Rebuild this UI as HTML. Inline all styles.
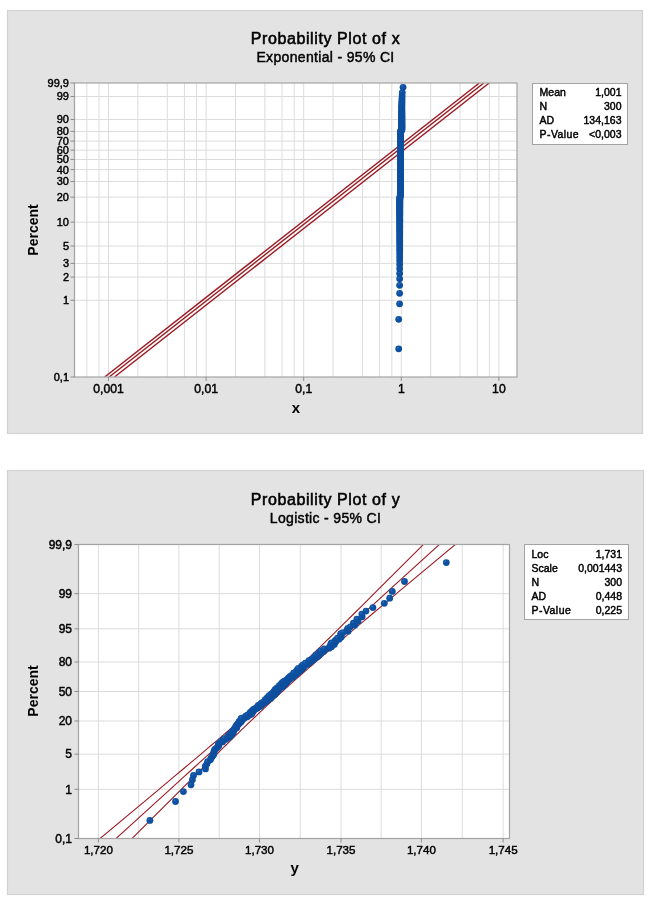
<!DOCTYPE html>
<html><head><meta charset="utf-8"><title>Probability Plots</title>
<style>html,body{margin:0;padding:0;background:#fff;} svg{display:block;will-change:transform;} text{font-family:"Liberation Sans", sans-serif;fill:#000;} .th{stroke:#000;stroke-width:0.45px;}</style>
</head><body>
<svg width="652" height="907" viewBox="0 0 652 907">
<defs>
<radialGradient id="dg" cx="0.36" cy="0.33" r="0.6">
<stop offset="0" stop-color="#3a74ba"/><stop offset="0.3" stop-color="#0f53a5"/><stop offset="1" stop-color="#0c4e9e"/>
</radialGradient>
<clipPath id="c1"><rect x="74.5" y="83" width="442.5" height="294"/></clipPath>
<clipPath id="c2"><rect x="78.5" y="544.5" width="431.0" height="294.0"/></clipPath>
</defs>
<rect x="7.5" y="10.5" width="635" height="423" fill="#e3e3e3" stroke="#d2d2d2" stroke-width="1.2"/>
<rect x="74.5" y="83" width="442.5" height="294" fill="#fff"/>
<line x1="86.85" y1="83" x2="86.85" y2="377" stroke="#dcdcdc" stroke-width="1"/>
<line x1="99.04" y1="83" x2="99.04" y2="377" stroke="#dcdcdc" stroke-width="1"/>
<line x1="108.5" y1="83" x2="108.5" y2="377" stroke="#dcdcdc" stroke-width="1"/>
<line x1="137.88" y1="83" x2="137.88" y2="377" stroke="#dcdcdc" stroke-width="1"/>
<line x1="167.26" y1="83" x2="167.26" y2="377" stroke="#dcdcdc" stroke-width="1"/>
<line x1="184.45" y1="83" x2="184.45" y2="377" stroke="#dcdcdc" stroke-width="1"/>
<line x1="196.64" y1="83" x2="196.64" y2="377" stroke="#dcdcdc" stroke-width="1"/>
<line x1="206.1" y1="83" x2="206.1" y2="377" stroke="#dcdcdc" stroke-width="1"/>
<line x1="235.48" y1="83" x2="235.48" y2="377" stroke="#dcdcdc" stroke-width="1"/>
<line x1="264.86" y1="83" x2="264.86" y2="377" stroke="#dcdcdc" stroke-width="1"/>
<line x1="282.05" y1="83" x2="282.05" y2="377" stroke="#dcdcdc" stroke-width="1"/>
<line x1="294.24" y1="83" x2="294.24" y2="377" stroke="#dcdcdc" stroke-width="1"/>
<line x1="303.7" y1="83" x2="303.7" y2="377" stroke="#dcdcdc" stroke-width="1"/>
<line x1="333.08" y1="83" x2="333.08" y2="377" stroke="#dcdcdc" stroke-width="1"/>
<line x1="362.46" y1="83" x2="362.46" y2="377" stroke="#dcdcdc" stroke-width="1"/>
<line x1="379.65" y1="83" x2="379.65" y2="377" stroke="#dcdcdc" stroke-width="1"/>
<line x1="391.84" y1="83" x2="391.84" y2="377" stroke="#dcdcdc" stroke-width="1"/>
<line x1="401.3" y1="83" x2="401.3" y2="377" stroke="#dcdcdc" stroke-width="1"/>
<line x1="430.68" y1="83" x2="430.68" y2="377" stroke="#dcdcdc" stroke-width="1"/>
<line x1="460.06" y1="83" x2="460.06" y2="377" stroke="#dcdcdc" stroke-width="1"/>
<line x1="477.25" y1="83" x2="477.25" y2="377" stroke="#dcdcdc" stroke-width="1"/>
<line x1="489.44" y1="83" x2="489.44" y2="377" stroke="#dcdcdc" stroke-width="1"/>
<line x1="498.9" y1="83" x2="498.9" y2="377" stroke="#dcdcdc" stroke-width="1"/>
<line x1="74.5" y1="96.49" x2="517" y2="96.49" stroke="#dcdcdc" stroke-width="1"/>
<line x1="74.5" y1="119.54" x2="517" y2="119.54" stroke="#dcdcdc" stroke-width="1"/>
<line x1="74.5" y1="131.45" x2="517" y2="131.45" stroke="#dcdcdc" stroke-width="1"/>
<line x1="74.5" y1="141.1" x2="517" y2="141.1" stroke="#dcdcdc" stroke-width="1"/>
<line x1="74.5" y1="150.18" x2="517" y2="150.18" stroke="#dcdcdc" stroke-width="1"/>
<line x1="74.5" y1="159.47" x2="517" y2="159.47" stroke="#dcdcdc" stroke-width="1"/>
<line x1="74.5" y1="169.62" x2="517" y2="169.62" stroke="#dcdcdc" stroke-width="1"/>
<line x1="74.5" y1="181.56" x2="517" y2="181.56" stroke="#dcdcdc" stroke-width="1"/>
<line x1="74.5" y1="197.16" x2="517" y2="197.16" stroke="#dcdcdc" stroke-width="1"/>
<line x1="74.5" y1="222.12" x2="517" y2="222.12" stroke="#dcdcdc" stroke-width="1"/>
<line x1="74.5" y1="246.06" x2="517" y2="246.06" stroke="#dcdcdc" stroke-width="1"/>
<line x1="74.5" y1="263.39" x2="517" y2="263.39" stroke="#dcdcdc" stroke-width="1"/>
<line x1="74.5" y1="277.05" x2="517" y2="277.05" stroke="#dcdcdc" stroke-width="1"/>
<line x1="74.5" y1="300.27" x2="517" y2="300.27" stroke="#dcdcdc" stroke-width="1"/>
<g clip-path="url(#c1)">
<line x1="104.66" y1="377" x2="479.36" y2="83" stroke="#9a1a22" stroke-width="1.4"/>
<line x1="109.16" y1="377" x2="483.86" y2="83" stroke="#9a1a22" stroke-width="1.4"/>
<line x1="114.46" y1="377" x2="489.16" y2="83" stroke="#9a1a22" stroke-width="1.4"/>
</g>
<circle cx="398.7" cy="348.84" r="3.4" fill="url(#dg)"/>
<circle cx="398.7" cy="319.28" r="3.4" fill="url(#dg)"/>
<circle cx="399.6" cy="303.83" r="3.4" fill="url(#dg)"/>
<circle cx="399.62" cy="293.3" r="3.4" fill="url(#dg)"/>
<circle cx="399.64" cy="285.29" r="3.4" fill="url(#dg)"/>
<circle cx="399.65" cy="278.82" r="3.4" fill="url(#dg)"/>
<circle cx="399.66" cy="273.38" r="3.4" fill="url(#dg)"/>
<circle cx="399.67" cy="268.7" r="3.4" fill="url(#dg)"/>
<circle cx="399.67" cy="264.58" r="3.4" fill="url(#dg)"/>
<circle cx="399.68" cy="260.91" r="3.4" fill="url(#dg)"/>
<circle cx="399.69" cy="257.59" r="3.4" fill="url(#dg)"/>
<circle cx="399.69" cy="254.56" r="3.4" fill="url(#dg)"/>
<circle cx="399.7" cy="251.77" r="3.4" fill="url(#dg)"/>
<circle cx="399.7" cy="249.2" r="3.4" fill="url(#dg)"/>
<circle cx="399.71" cy="246.79" r="3.4" fill="url(#dg)"/>
<circle cx="399.71" cy="244.55" r="3.4" fill="url(#dg)"/>
<circle cx="399.72" cy="242.44" r="3.4" fill="url(#dg)"/>
<circle cx="399.72" cy="240.44" r="3.4" fill="url(#dg)"/>
<circle cx="399.72" cy="238.56" r="3.4" fill="url(#dg)"/>
<circle cx="399.73" cy="236.77" r="3.4" fill="url(#dg)"/>
<circle cx="399.73" cy="235.06" r="3.4" fill="url(#dg)"/>
<circle cx="399.73" cy="233.43" r="3.4" fill="url(#dg)"/>
<circle cx="399.74" cy="231.88" r="3.4" fill="url(#dg)"/>
<circle cx="399.74" cy="230.38" r="3.4" fill="url(#dg)"/>
<circle cx="399.74" cy="228.95" r="3.4" fill="url(#dg)"/>
<circle cx="399.74" cy="227.57" r="3.4" fill="url(#dg)"/>
<circle cx="399.75" cy="226.24" r="3.4" fill="url(#dg)"/>
<circle cx="399.75" cy="224.96" r="3.4" fill="url(#dg)"/>
<circle cx="399.75" cy="223.72" r="3.4" fill="url(#dg)"/>
<circle cx="399.75" cy="222.52" r="3.4" fill="url(#dg)"/>
<circle cx="399.76" cy="221.36" r="3.4" fill="url(#dg)"/>
<circle cx="399.76" cy="220.23" r="3.4" fill="url(#dg)"/>
<circle cx="399.76" cy="219.14" r="3.4" fill="url(#dg)"/>
<circle cx="399.76" cy="218.07" r="3.4" fill="url(#dg)"/>
<circle cx="399.76" cy="217.04" r="3.4" fill="url(#dg)"/>
<circle cx="399.77" cy="216.03" r="3.4" fill="url(#dg)"/>
<circle cx="399.77" cy="215.05" r="3.4" fill="url(#dg)"/>
<circle cx="399.77" cy="214.1" r="3.4" fill="url(#dg)"/>
<circle cx="399.77" cy="213.16" r="3.4" fill="url(#dg)"/>
<circle cx="399.77" cy="212.25" r="3.4" fill="url(#dg)"/>
<circle cx="399.77" cy="211.36" r="3.4" fill="url(#dg)"/>
<circle cx="399.78" cy="210.49" r="3.4" fill="url(#dg)"/>
<circle cx="399.78" cy="209.64" r="3.4" fill="url(#dg)"/>
<circle cx="399.78" cy="208.81" r="3.4" fill="url(#dg)"/>
<circle cx="399.78" cy="208" r="3.4" fill="url(#dg)"/>
<circle cx="399.78" cy="207.2" r="3.4" fill="url(#dg)"/>
<circle cx="399.78" cy="206.41" r="3.4" fill="url(#dg)"/>
<circle cx="399.79" cy="205.64" r="3.4" fill="url(#dg)"/>
<circle cx="399.79" cy="204.89" r="3.4" fill="url(#dg)"/>
<circle cx="399.79" cy="204.15" r="3.4" fill="url(#dg)"/>
<circle cx="399.79" cy="203.42" r="3.4" fill="url(#dg)"/>
<circle cx="399.79" cy="202.71" r="3.4" fill="url(#dg)"/>
<circle cx="399.79" cy="202.01" r="3.4" fill="url(#dg)"/>
<circle cx="399.79" cy="201.32" r="3.4" fill="url(#dg)"/>
<circle cx="399.8" cy="200.64" r="3.4" fill="url(#dg)"/>
<circle cx="399.8" cy="199.97" r="3.4" fill="url(#dg)"/>
<circle cx="399.8" cy="199.31" r="3.4" fill="url(#dg)"/>
<circle cx="399.8" cy="198.66" r="3.4" fill="url(#dg)"/>
<circle cx="399.8" cy="198.03" r="3.4" fill="url(#dg)"/>
<circle cx="399.95" cy="197.4" r="3.4" fill="url(#dg)"/>
<circle cx="400.11" cy="196.78" r="3.4" fill="url(#dg)"/>
<circle cx="400.26" cy="196.17" r="3.4" fill="url(#dg)"/>
<circle cx="400.31" cy="195.57" r="3.4" fill="url(#dg)"/>
<circle cx="400.32" cy="194.97" r="3.4" fill="url(#dg)"/>
<circle cx="400.33" cy="194.39" r="3.4" fill="url(#dg)"/>
<circle cx="400.34" cy="193.81" r="3.4" fill="url(#dg)"/>
<circle cx="400.35" cy="193.24" r="3.4" fill="url(#dg)"/>
<circle cx="400.36" cy="192.68" r="3.4" fill="url(#dg)"/>
<circle cx="400.36" cy="192.12" r="3.4" fill="url(#dg)"/>
<circle cx="400.37" cy="191.57" r="3.4" fill="url(#dg)"/>
<circle cx="400.38" cy="191.03" r="3.4" fill="url(#dg)"/>
<circle cx="400.39" cy="190.49" r="3.4" fill="url(#dg)"/>
<circle cx="400.4" cy="189.96" r="3.4" fill="url(#dg)"/>
<circle cx="400.4" cy="189.44" r="3.4" fill="url(#dg)"/>
<circle cx="400.4" cy="188.92" r="3.4" fill="url(#dg)"/>
<circle cx="400.4" cy="188.41" r="3.4" fill="url(#dg)"/>
<circle cx="400.4" cy="187.9" r="3.4" fill="url(#dg)"/>
<circle cx="400.4" cy="187.4" r="3.4" fill="url(#dg)"/>
<circle cx="400.41" cy="186.9" r="3.4" fill="url(#dg)"/>
<circle cx="400.41" cy="186.41" r="3.4" fill="url(#dg)"/>
<circle cx="400.41" cy="185.92" r="3.4" fill="url(#dg)"/>
<circle cx="400.41" cy="185.44" r="3.4" fill="url(#dg)"/>
<circle cx="400.41" cy="184.97" r="3.4" fill="url(#dg)"/>
<circle cx="400.41" cy="184.49" r="3.4" fill="url(#dg)"/>
<circle cx="400.41" cy="184.03" r="3.4" fill="url(#dg)"/>
<circle cx="400.41" cy="183.56" r="3.4" fill="url(#dg)"/>
<circle cx="400.41" cy="183.1" r="3.4" fill="url(#dg)"/>
<circle cx="400.41" cy="182.65" r="3.4" fill="url(#dg)"/>
<circle cx="400.41" cy="182.2" r="3.4" fill="url(#dg)"/>
<circle cx="400.41" cy="181.75" r="3.4" fill="url(#dg)"/>
<circle cx="400.41" cy="181.31" r="3.4" fill="url(#dg)"/>
<circle cx="400.42" cy="180.87" r="3.4" fill="url(#dg)"/>
<circle cx="400.42" cy="180.43" r="3.4" fill="url(#dg)"/>
<circle cx="400.42" cy="180" r="3.4" fill="url(#dg)"/>
<circle cx="400.42" cy="179.57" r="3.4" fill="url(#dg)"/>
<circle cx="400.42" cy="179.15" r="3.4" fill="url(#dg)"/>
<circle cx="400.42" cy="178.72" r="3.4" fill="url(#dg)"/>
<circle cx="400.42" cy="178.31" r="3.4" fill="url(#dg)"/>
<circle cx="400.42" cy="177.89" r="3.4" fill="url(#dg)"/>
<circle cx="400.42" cy="177.48" r="3.4" fill="url(#dg)"/>
<circle cx="400.42" cy="177.07" r="3.4" fill="url(#dg)"/>
<circle cx="400.42" cy="176.66" r="3.4" fill="url(#dg)"/>
<circle cx="400.42" cy="176.26" r="3.4" fill="url(#dg)"/>
<circle cx="400.42" cy="175.86" r="3.4" fill="url(#dg)"/>
<circle cx="400.42" cy="175.46" r="3.4" fill="url(#dg)"/>
<circle cx="400.43" cy="175.06" r="3.4" fill="url(#dg)"/>
<circle cx="400.43" cy="174.67" r="3.4" fill="url(#dg)"/>
<circle cx="400.43" cy="174.28" r="3.4" fill="url(#dg)"/>
<circle cx="400.43" cy="173.89" r="3.4" fill="url(#dg)"/>
<circle cx="400.43" cy="173.51" r="3.4" fill="url(#dg)"/>
<circle cx="400.43" cy="173.13" r="3.4" fill="url(#dg)"/>
<circle cx="400.43" cy="172.75" r="3.4" fill="url(#dg)"/>
<circle cx="400.43" cy="172.37" r="3.4" fill="url(#dg)"/>
<circle cx="400.43" cy="171.99" r="3.4" fill="url(#dg)"/>
<circle cx="400.43" cy="171.62" r="3.4" fill="url(#dg)"/>
<circle cx="400.43" cy="171.25" r="3.4" fill="url(#dg)"/>
<circle cx="400.43" cy="170.88" r="3.4" fill="url(#dg)"/>
<circle cx="400.43" cy="170.51" r="3.4" fill="url(#dg)"/>
<circle cx="400.43" cy="170.15" r="3.4" fill="url(#dg)"/>
<circle cx="400.43" cy="169.78" r="3.4" fill="url(#dg)"/>
<circle cx="400.44" cy="169.42" r="3.4" fill="url(#dg)"/>
<circle cx="400.44" cy="169.06" r="3.4" fill="url(#dg)"/>
<circle cx="400.44" cy="168.71" r="3.4" fill="url(#dg)"/>
<circle cx="400.44" cy="168.35" r="3.4" fill="url(#dg)"/>
<circle cx="400.44" cy="168" r="3.4" fill="url(#dg)"/>
<circle cx="400.44" cy="167.64" r="3.4" fill="url(#dg)"/>
<circle cx="400.44" cy="167.29" r="3.4" fill="url(#dg)"/>
<circle cx="400.44" cy="166.94" r="3.4" fill="url(#dg)"/>
<circle cx="400.44" cy="166.6" r="3.4" fill="url(#dg)"/>
<circle cx="400.44" cy="166.25" r="3.4" fill="url(#dg)"/>
<circle cx="400.44" cy="165.91" r="3.4" fill="url(#dg)"/>
<circle cx="400.44" cy="165.57" r="3.4" fill="url(#dg)"/>
<circle cx="400.44" cy="165.23" r="3.4" fill="url(#dg)"/>
<circle cx="400.44" cy="164.89" r="3.4" fill="url(#dg)"/>
<circle cx="400.44" cy="164.55" r="3.4" fill="url(#dg)"/>
<circle cx="400.44" cy="164.21" r="3.4" fill="url(#dg)"/>
<circle cx="400.44" cy="163.88" r="3.4" fill="url(#dg)"/>
<circle cx="400.45" cy="163.54" r="3.4" fill="url(#dg)"/>
<circle cx="400.45" cy="163.21" r="3.4" fill="url(#dg)"/>
<circle cx="400.45" cy="162.88" r="3.4" fill="url(#dg)"/>
<circle cx="400.45" cy="162.55" r="3.4" fill="url(#dg)"/>
<circle cx="400.45" cy="162.22" r="3.4" fill="url(#dg)"/>
<circle cx="400.45" cy="161.89" r="3.4" fill="url(#dg)"/>
<circle cx="400.45" cy="161.56" r="3.4" fill="url(#dg)"/>
<circle cx="400.45" cy="161.24" r="3.4" fill="url(#dg)"/>
<circle cx="400.45" cy="160.91" r="3.4" fill="url(#dg)"/>
<circle cx="400.45" cy="160.59" r="3.4" fill="url(#dg)"/>
<circle cx="400.45" cy="160.27" r="3.4" fill="url(#dg)"/>
<circle cx="400.45" cy="159.95" r="3.4" fill="url(#dg)"/>
<circle cx="400.45" cy="159.63" r="3.4" fill="url(#dg)"/>
<circle cx="400.45" cy="159.31" r="3.4" fill="url(#dg)"/>
<circle cx="400.45" cy="158.99" r="3.4" fill="url(#dg)"/>
<circle cx="400.45" cy="158.67" r="3.4" fill="url(#dg)"/>
<circle cx="400.45" cy="158.35" r="3.4" fill="url(#dg)"/>
<circle cx="400.45" cy="158.04" r="3.4" fill="url(#dg)"/>
<circle cx="400.46" cy="157.72" r="3.4" fill="url(#dg)"/>
<circle cx="400.46" cy="157.41" r="3.4" fill="url(#dg)"/>
<circle cx="400.46" cy="157.09" r="3.4" fill="url(#dg)"/>
<circle cx="400.46" cy="156.78" r="3.4" fill="url(#dg)"/>
<circle cx="400.46" cy="156.47" r="3.4" fill="url(#dg)"/>
<circle cx="400.46" cy="156.16" r="3.4" fill="url(#dg)"/>
<circle cx="400.46" cy="155.85" r="3.4" fill="url(#dg)"/>
<circle cx="400.46" cy="155.54" r="3.4" fill="url(#dg)"/>
<circle cx="400.46" cy="155.23" r="3.4" fill="url(#dg)"/>
<circle cx="400.46" cy="154.92" r="3.4" fill="url(#dg)"/>
<circle cx="400.46" cy="154.61" r="3.4" fill="url(#dg)"/>
<circle cx="400.46" cy="154.3" r="3.4" fill="url(#dg)"/>
<circle cx="400.46" cy="154" r="3.4" fill="url(#dg)"/>
<circle cx="400.46" cy="153.69" r="3.4" fill="url(#dg)"/>
<circle cx="400.46" cy="153.39" r="3.4" fill="url(#dg)"/>
<circle cx="400.46" cy="153.08" r="3.4" fill="url(#dg)"/>
<circle cx="400.46" cy="152.77" r="3.4" fill="url(#dg)"/>
<circle cx="400.46" cy="152.47" r="3.4" fill="url(#dg)"/>
<circle cx="400.46" cy="152.17" r="3.4" fill="url(#dg)"/>
<circle cx="400.47" cy="151.86" r="3.4" fill="url(#dg)"/>
<circle cx="400.47" cy="151.56" r="3.4" fill="url(#dg)"/>
<circle cx="400.47" cy="151.25" r="3.4" fill="url(#dg)"/>
<circle cx="400.47" cy="150.95" r="3.4" fill="url(#dg)"/>
<circle cx="400.47" cy="150.65" r="3.4" fill="url(#dg)"/>
<circle cx="400.47" cy="150.35" r="3.4" fill="url(#dg)"/>
<circle cx="400.47" cy="150.05" r="3.4" fill="url(#dg)"/>
<circle cx="400.47" cy="149.74" r="3.4" fill="url(#dg)"/>
<circle cx="400.47" cy="149.44" r="3.4" fill="url(#dg)"/>
<circle cx="400.47" cy="149.14" r="3.4" fill="url(#dg)"/>
<circle cx="400.47" cy="148.84" r="3.4" fill="url(#dg)"/>
<circle cx="400.47" cy="148.54" r="3.4" fill="url(#dg)"/>
<circle cx="400.47" cy="148.24" r="3.4" fill="url(#dg)"/>
<circle cx="400.47" cy="147.94" r="3.4" fill="url(#dg)"/>
<circle cx="400.47" cy="147.63" r="3.4" fill="url(#dg)"/>
<circle cx="400.47" cy="147.33" r="3.4" fill="url(#dg)"/>
<circle cx="400.47" cy="147.03" r="3.4" fill="url(#dg)"/>
<circle cx="400.47" cy="146.73" r="3.4" fill="url(#dg)"/>
<circle cx="400.47" cy="146.43" r="3.4" fill="url(#dg)"/>
<circle cx="400.47" cy="146.13" r="3.4" fill="url(#dg)"/>
<circle cx="400.48" cy="145.83" r="3.4" fill="url(#dg)"/>
<circle cx="400.48" cy="145.53" r="3.4" fill="url(#dg)"/>
<circle cx="400.48" cy="145.23" r="3.4" fill="url(#dg)"/>
<circle cx="400.48" cy="144.92" r="3.4" fill="url(#dg)"/>
<circle cx="400.48" cy="144.62" r="3.4" fill="url(#dg)"/>
<circle cx="400.48" cy="144.32" r="3.4" fill="url(#dg)"/>
<circle cx="400.48" cy="144.02" r="3.4" fill="url(#dg)"/>
<circle cx="400.48" cy="143.71" r="3.4" fill="url(#dg)"/>
<circle cx="400.48" cy="143.41" r="3.4" fill="url(#dg)"/>
<circle cx="400.48" cy="143.11" r="3.4" fill="url(#dg)"/>
<circle cx="400.48" cy="142.81" r="3.4" fill="url(#dg)"/>
<circle cx="400.48" cy="142.5" r="3.4" fill="url(#dg)"/>
<circle cx="400.48" cy="142.2" r="3.4" fill="url(#dg)"/>
<circle cx="400.48" cy="141.89" r="3.4" fill="url(#dg)"/>
<circle cx="400.48" cy="141.59" r="3.4" fill="url(#dg)"/>
<circle cx="400.48" cy="141.28" r="3.4" fill="url(#dg)"/>
<circle cx="400.48" cy="140.97" r="3.4" fill="url(#dg)"/>
<circle cx="400.48" cy="140.67" r="3.4" fill="url(#dg)"/>
<circle cx="400.48" cy="140.36" r="3.4" fill="url(#dg)"/>
<circle cx="400.49" cy="140.05" r="3.4" fill="url(#dg)"/>
<circle cx="400.49" cy="139.74" r="3.4" fill="url(#dg)"/>
<circle cx="400.49" cy="139.43" r="3.4" fill="url(#dg)"/>
<circle cx="400.49" cy="139.12" r="3.4" fill="url(#dg)"/>
<circle cx="400.49" cy="138.81" r="3.4" fill="url(#dg)"/>
<circle cx="400.49" cy="138.5" r="3.4" fill="url(#dg)"/>
<circle cx="400.49" cy="138.18" r="3.4" fill="url(#dg)"/>
<circle cx="400.49" cy="137.87" r="3.4" fill="url(#dg)"/>
<circle cx="400.49" cy="137.56" r="3.4" fill="url(#dg)"/>
<circle cx="400.49" cy="137.24" r="3.4" fill="url(#dg)"/>
<circle cx="400.49" cy="136.92" r="3.4" fill="url(#dg)"/>
<circle cx="400.49" cy="136.6" r="3.4" fill="url(#dg)"/>
<circle cx="400.49" cy="136.29" r="3.4" fill="url(#dg)"/>
<circle cx="400.49" cy="135.96" r="3.4" fill="url(#dg)"/>
<circle cx="400.49" cy="135.64" r="3.4" fill="url(#dg)"/>
<circle cx="400.49" cy="135.32" r="3.4" fill="url(#dg)"/>
<circle cx="400.49" cy="135" r="3.4" fill="url(#dg)"/>
<circle cx="400.49" cy="134.67" r="3.4" fill="url(#dg)"/>
<circle cx="400.5" cy="134.34" r="3.4" fill="url(#dg)"/>
<circle cx="400.5" cy="134.01" r="3.4" fill="url(#dg)"/>
<circle cx="400.5" cy="133.68" r="3.4" fill="url(#dg)"/>
<circle cx="400.5" cy="133.35" r="3.4" fill="url(#dg)"/>
<circle cx="400.5" cy="133.02" r="3.4" fill="url(#dg)"/>
<circle cx="400.5" cy="132.68" r="3.4" fill="url(#dg)"/>
<circle cx="400.5" cy="132.34" r="3.4" fill="url(#dg)"/>
<circle cx="400.5" cy="132" r="3.4" fill="url(#dg)"/>
<circle cx="400.5" cy="131.66" r="3.4" fill="url(#dg)"/>
<circle cx="400.66" cy="131.32" r="3.4" fill="url(#dg)"/>
<circle cx="400.96" cy="130.97" r="3.4" fill="url(#dg)"/>
<circle cx="401.26" cy="130.62" r="3.4" fill="url(#dg)"/>
<circle cx="401.56" cy="130.27" r="3.4" fill="url(#dg)"/>
<circle cx="401.8" cy="129.92" r="3.4" fill="url(#dg)"/>
<circle cx="401.8" cy="129.57" r="3.4" fill="url(#dg)"/>
<circle cx="401.8" cy="129.21" r="3.4" fill="url(#dg)"/>
<circle cx="401.8" cy="128.85" r="3.4" fill="url(#dg)"/>
<circle cx="401.8" cy="128.48" r="3.4" fill="url(#dg)"/>
<circle cx="401.8" cy="128.11" r="3.4" fill="url(#dg)"/>
<circle cx="401.8" cy="127.74" r="3.4" fill="url(#dg)"/>
<circle cx="401.8" cy="127.37" r="3.4" fill="url(#dg)"/>
<circle cx="401.8" cy="126.99" r="3.4" fill="url(#dg)"/>
<circle cx="401.8" cy="126.61" r="3.4" fill="url(#dg)"/>
<circle cx="401.8" cy="126.23" r="3.4" fill="url(#dg)"/>
<circle cx="401.8" cy="125.84" r="3.4" fill="url(#dg)"/>
<circle cx="401.8" cy="125.45" r="3.4" fill="url(#dg)"/>
<circle cx="401.8" cy="125.05" r="3.4" fill="url(#dg)"/>
<circle cx="401.8" cy="124.65" r="3.4" fill="url(#dg)"/>
<circle cx="401.8" cy="124.24" r="3.4" fill="url(#dg)"/>
<circle cx="401.8" cy="123.83" r="3.4" fill="url(#dg)"/>
<circle cx="401.8" cy="123.41" r="3.4" fill="url(#dg)"/>
<circle cx="401.8" cy="122.99" r="3.4" fill="url(#dg)"/>
<circle cx="401.8" cy="122.56" r="3.4" fill="url(#dg)"/>
<circle cx="401.8" cy="122.13" r="3.4" fill="url(#dg)"/>
<circle cx="401.8" cy="121.69" r="3.4" fill="url(#dg)"/>
<circle cx="401.8" cy="121.24" r="3.4" fill="url(#dg)"/>
<circle cx="401.8" cy="120.79" r="3.4" fill="url(#dg)"/>
<circle cx="401.8" cy="120.32" r="3.4" fill="url(#dg)"/>
<circle cx="401.8" cy="119.85" r="3.4" fill="url(#dg)"/>
<circle cx="401.8" cy="119.37" r="3.4" fill="url(#dg)"/>
<circle cx="401.8" cy="118.89" r="3.4" fill="url(#dg)"/>
<circle cx="401.8" cy="118.39" r="3.4" fill="url(#dg)"/>
<circle cx="401.8" cy="117.88" r="3.4" fill="url(#dg)"/>
<circle cx="401.8" cy="117.36" r="3.4" fill="url(#dg)"/>
<circle cx="401.8" cy="116.82" r="3.4" fill="url(#dg)"/>
<circle cx="401.8" cy="116.28" r="3.4" fill="url(#dg)"/>
<circle cx="401.8" cy="115.72" r="3.4" fill="url(#dg)"/>
<circle cx="401.8" cy="115.14" r="3.4" fill="url(#dg)"/>
<circle cx="401.8" cy="114.55" r="3.4" fill="url(#dg)"/>
<circle cx="401.8" cy="113.94" r="3.4" fill="url(#dg)"/>
<circle cx="401.8" cy="113.31" r="3.4" fill="url(#dg)"/>
<circle cx="401.8" cy="112.66" r="3.4" fill="url(#dg)"/>
<circle cx="401.8" cy="111.98" r="3.4" fill="url(#dg)"/>
<circle cx="401.8" cy="111.28" r="3.4" fill="url(#dg)"/>
<circle cx="401.8" cy="110.55" r="3.4" fill="url(#dg)"/>
<circle cx="401.8" cy="109.78" r="3.4" fill="url(#dg)"/>
<circle cx="401.8" cy="108.97" r="3.4" fill="url(#dg)"/>
<circle cx="401.8" cy="108.12" r="3.4" fill="url(#dg)"/>
<circle cx="401.8" cy="107.22" r="3.4" fill="url(#dg)"/>
<circle cx="401.8" cy="106.25" r="3.4" fill="url(#dg)"/>
<circle cx="401.82" cy="105.22" r="3.4" fill="url(#dg)"/>
<circle cx="401.85" cy="104.09" r="3.4" fill="url(#dg)"/>
<circle cx="401.88" cy="102.85" r="3.4" fill="url(#dg)"/>
<circle cx="401.91" cy="101.47" r="3.4" fill="url(#dg)"/>
<circle cx="401.95" cy="99.89" r="3.4" fill="url(#dg)"/>
<circle cx="402" cy="98.03" r="3.4" fill="url(#dg)"/>
<circle cx="402.11" cy="95.72" r="3.4" fill="url(#dg)"/>
<circle cx="402.27" cy="92.61" r="3.4" fill="url(#dg)"/>
<circle cx="403.06" cy="87.34" r="3.4" fill="url(#dg)"/>
<rect x="74.5" y="83" width="442.5" height="294" fill="none" stroke="#a3a3a3" stroke-width="1.2"/>
<line x1="70.5" y1="83" x2="74.5" y2="83" stroke="#8c8c8c" stroke-width="1"/>
<text x="69" y="86.9" font-size="11" font-weight="400" text-anchor="end" class="th" >99,9</text>
<line x1="70.5" y1="96.49" x2="74.5" y2="96.49" stroke="#8c8c8c" stroke-width="1"/>
<text x="69" y="100.39" font-size="11" font-weight="400" text-anchor="end" class="th" >99</text>
<line x1="70.5" y1="119.54" x2="74.5" y2="119.54" stroke="#8c8c8c" stroke-width="1"/>
<text x="69" y="123.44" font-size="11" font-weight="400" text-anchor="end" class="th" >90</text>
<line x1="70.5" y1="131.45" x2="74.5" y2="131.45" stroke="#8c8c8c" stroke-width="1"/>
<text x="69" y="135.35" font-size="11" font-weight="400" text-anchor="end" class="th" >80</text>
<line x1="70.5" y1="141.1" x2="74.5" y2="141.1" stroke="#8c8c8c" stroke-width="1"/>
<text x="69" y="145" font-size="11" font-weight="400" text-anchor="end" class="th" >70</text>
<line x1="70.5" y1="150.18" x2="74.5" y2="150.18" stroke="#8c8c8c" stroke-width="1"/>
<text x="69" y="154.08" font-size="11" font-weight="400" text-anchor="end" class="th" >60</text>
<line x1="70.5" y1="159.47" x2="74.5" y2="159.47" stroke="#8c8c8c" stroke-width="1"/>
<text x="69" y="163.37" font-size="11" font-weight="400" text-anchor="end" class="th" >50</text>
<line x1="70.5" y1="169.62" x2="74.5" y2="169.62" stroke="#8c8c8c" stroke-width="1"/>
<text x="69" y="173.52" font-size="11" font-weight="400" text-anchor="end" class="th" >40</text>
<line x1="70.5" y1="181.56" x2="74.5" y2="181.56" stroke="#8c8c8c" stroke-width="1"/>
<text x="69" y="185.46" font-size="11" font-weight="400" text-anchor="end" class="th" >30</text>
<line x1="70.5" y1="197.16" x2="74.5" y2="197.16" stroke="#8c8c8c" stroke-width="1"/>
<text x="69" y="201.06" font-size="11" font-weight="400" text-anchor="end" class="th" >20</text>
<line x1="70.5" y1="222.12" x2="74.5" y2="222.12" stroke="#8c8c8c" stroke-width="1"/>
<text x="69" y="226.02" font-size="11" font-weight="400" text-anchor="end" class="th" >10</text>
<line x1="70.5" y1="246.06" x2="74.5" y2="246.06" stroke="#8c8c8c" stroke-width="1"/>
<text x="69" y="249.96" font-size="11" font-weight="400" text-anchor="end" class="th" >5</text>
<line x1="70.5" y1="263.39" x2="74.5" y2="263.39" stroke="#8c8c8c" stroke-width="1"/>
<text x="69" y="267.29" font-size="11" font-weight="400" text-anchor="end" class="th" >3</text>
<line x1="70.5" y1="277.05" x2="74.5" y2="277.05" stroke="#8c8c8c" stroke-width="1"/>
<text x="69" y="280.95" font-size="11" font-weight="400" text-anchor="end" class="th" >2</text>
<line x1="70.5" y1="300.27" x2="74.5" y2="300.27" stroke="#8c8c8c" stroke-width="1"/>
<text x="69" y="304.17" font-size="11" font-weight="400" text-anchor="end" class="th" >1</text>
<line x1="70.5" y1="377" x2="74.5" y2="377" stroke="#8c8c8c" stroke-width="1"/>
<text x="69" y="380.9" font-size="11" font-weight="400" text-anchor="end" class="th" >0,1</text>
<line x1="108.5" y1="377" x2="108.5" y2="381" stroke="#8c8c8c" stroke-width="1"/>
<text x="108.5" y="393" font-size="12.2" font-weight="400" text-anchor="middle" class="th" >0,001</text>
<line x1="206.1" y1="377" x2="206.1" y2="381" stroke="#8c8c8c" stroke-width="1"/>
<text x="206.1" y="393" font-size="12.2" font-weight="400" text-anchor="middle" class="th" >0,01</text>
<line x1="303.7" y1="377" x2="303.7" y2="381" stroke="#8c8c8c" stroke-width="1"/>
<text x="303.7" y="393" font-size="12.2" font-weight="400" text-anchor="middle" class="th" >0,1</text>
<line x1="401.3" y1="377" x2="401.3" y2="381" stroke="#8c8c8c" stroke-width="1"/>
<text x="401.3" y="393" font-size="12.2" font-weight="400" text-anchor="middle" class="th" >1</text>
<line x1="498.9" y1="377" x2="498.9" y2="381" stroke="#8c8c8c" stroke-width="1"/>
<text x="498.9" y="393" font-size="12.2" font-weight="400" text-anchor="middle" class="th" >10</text>
<text x="325.5" y="44" font-size="16" font-weight="400" text-anchor="middle" class="th" letter-spacing="0.6" style="stroke-width:0.55px">Probability Plot of x</text>
<text x="325.5" y="62" font-size="14" font-weight="400" text-anchor="middle" class="th" letter-spacing="0.33" style="stroke-width:0.45px">Exponential - 95% CI</text>
<text x="296" y="413" font-size="15" font-weight="700" text-anchor="middle" >x</text>
<text transform="translate(38.3,230) rotate(-90)" font-size="14" font-weight="700" text-anchor="middle">Percent</text>
<rect x="532.5" y="83.5" width="95" height="61" fill="#fff" stroke="#a3a3a3" stroke-width="1"/>
<text x="539.6" y="96.3" font-size="10.5" font-weight="400" text-anchor="start" class="th" >Mean</text>
<text x="621.5" y="96.3" font-size="10.5" font-weight="400" text-anchor="end" class="th" >1,001</text>
<text x="539.6" y="110.1" font-size="10.5" font-weight="400" text-anchor="start" class="th" >N</text>
<text x="621.5" y="110.1" font-size="10.5" font-weight="400" text-anchor="end" class="th" >300</text>
<text x="539.6" y="123.9" font-size="10.5" font-weight="400" text-anchor="start" class="th" >AD</text>
<text x="621.5" y="123.9" font-size="10.5" font-weight="400" text-anchor="end" class="th" >134,163</text>
<text x="539.6" y="137.7" font-size="10.5" font-weight="400" text-anchor="start" class="th" letter-spacing="0.4">P-Value</text>
<text x="621.5" y="137.7" font-size="10.5" font-weight="400" text-anchor="end" class="th" >&lt;0,003</text>
<rect x="7.5" y="470.5" width="636" height="424" fill="#e3e3e3" stroke="#d2d2d2" stroke-width="1.2"/>
<rect x="78.5" y="544.5" width="431.0" height="294.0" fill="#fff"/>
<line x1="98.4" y1="544.5" x2="98.4" y2="838.5" stroke="#dcdcdc" stroke-width="1"/>
<line x1="138.65" y1="544.5" x2="138.65" y2="838.5" stroke="#dcdcdc" stroke-width="1"/>
<line x1="178.9" y1="544.5" x2="178.9" y2="838.5" stroke="#dcdcdc" stroke-width="1"/>
<line x1="219.2" y1="544.5" x2="219.2" y2="838.5" stroke="#dcdcdc" stroke-width="1"/>
<line x1="259.5" y1="544.5" x2="259.5" y2="838.5" stroke="#dcdcdc" stroke-width="1"/>
<line x1="300.25" y1="544.5" x2="300.25" y2="838.5" stroke="#dcdcdc" stroke-width="1"/>
<line x1="341" y1="544.5" x2="341" y2="838.5" stroke="#dcdcdc" stroke-width="1"/>
<line x1="381.2" y1="544.5" x2="381.2" y2="838.5" stroke="#dcdcdc" stroke-width="1"/>
<line x1="421.4" y1="544.5" x2="421.4" y2="838.5" stroke="#dcdcdc" stroke-width="1"/>
<line x1="462.25" y1="544.5" x2="462.25" y2="838.5" stroke="#dcdcdc" stroke-width="1"/>
<line x1="503.1" y1="544.5" x2="503.1" y2="838.5" stroke="#dcdcdc" stroke-width="1"/>
<line x1="78.5" y1="593.7" x2="509.5" y2="593.7" stroke="#dcdcdc" stroke-width="1"/>
<line x1="78.5" y1="628.83" x2="509.5" y2="628.83" stroke="#dcdcdc" stroke-width="1"/>
<line x1="78.5" y1="661.99" x2="509.5" y2="661.99" stroke="#dcdcdc" stroke-width="1"/>
<line x1="78.5" y1="691.5" x2="509.5" y2="691.5" stroke="#dcdcdc" stroke-width="1"/>
<line x1="78.5" y1="721.01" x2="509.5" y2="721.01" stroke="#dcdcdc" stroke-width="1"/>
<line x1="78.5" y1="754.17" x2="509.5" y2="754.17" stroke="#dcdcdc" stroke-width="1"/>
<line x1="78.5" y1="789.3" x2="509.5" y2="789.3" stroke="#dcdcdc" stroke-width="1"/>
<g clip-path="url(#c2)">
<polyline points="97.38,840.74 156.9,791.05 173.45,777.18 183.51,768.74 190.78,762.62 196.51,757.8 201.24,753.81 205.28,750.39 208.81,747.4 211.96,744.74 214.8,742.33 217.4,740.13 219.78,738.09 222,736.21 224.07,734.44 226.01,732.78 227.85,731.22 229.59,729.73 231.24,728.31 232.82,726.96 234.33,725.66 235.78,724.42 237.17,723.22 238.52,722.06 239.82,720.93 241.07,719.85 242.29,718.79 243.48,717.76 244.63,716.76 245.76,715.79 246.85,714.83 247.92,713.9 248.97,712.98 250,712.09 251,711.21 251.99,710.35 252.95,709.5 253.91,708.66 254.84,707.84 255.76,707.03 256.67,706.22 257.57,705.43 258.45,704.65 259.32,703.88 260.19,703.11 261.04,702.35 261.89,701.6 262.72,700.85 263.55,700.11 264.38,699.38 265.19,698.65 266,697.92 266.81,697.2 267.61,696.48 268.4,695.76 269.19,695.05 269.98,694.34 270.77,693.63 271.55,692.92 272.33,692.21 273.11,691.5 273.89,690.79 274.67,690.08 275.45,689.37 276.22,688.66 277,687.95 277.78,687.24 278.56,686.52 279.34,685.8 280.13,685.08 280.91,684.35 281.7,683.62 282.5,682.89 283.3,682.15 284.1,681.4 284.91,680.65 285.72,679.89 286.55,679.12 287.37,678.35 288.21,677.57 289.06,676.78 289.91,675.97 290.77,675.16 291.65,674.34 292.54,673.5 293.44,672.65 294.35,671.79 295.28,670.91 296.22,670.02 297.19,669.1 298.17,668.17 299.17,667.21 300.19,666.24 301.24,665.24 302.32,664.21 303.42,663.15 304.55,662.07 305.72,660.94 306.93,659.78 308.17,658.58 309.46,657.34 310.81,656.04 312.21,654.69 313.67,653.27 315.2,651.78 316.82,650.22 318.52,648.56 320.33,646.79 322.27,644.91 324.34,642.87 326.59,640.67 329.05,638.26 331.77,635.6 334.81,632.61 338.28,629.19 342.32,625.2 347.2,620.38 353.38,614.26 361.9,605.82 375.84,591.95 425.63,542.26" fill="none" stroke="#9a1a22" stroke-width="1.1"/>
<polyline points="113.58,840.74 168.23,791.05 183.48,777.18 192.76,768.74 199.49,762.62 204.79,757.8 209.18,753.81 212.93,750.39 216.22,747.4 219.16,744.74 221.81,742.33 224.23,740.13 226.46,738.09 228.53,736.21 230.47,734.44 232.3,732.78 234.02,731.22 235.66,729.73 237.22,728.31 238.7,726.96 240.13,725.66 241.5,724.42 242.82,723.22 244.1,722.06 245.33,720.93 246.53,719.85 247.69,718.79 248.82,717.76 249.92,716.76 250.99,715.79 252.04,714.83 253.07,713.9 254.07,712.98 255.06,712.09 256.02,711.21 256.97,710.35 257.91,709.5 258.83,708.66 259.73,707.84 260.63,707.03 261.51,706.22 262.38,705.43 263.24,704.65 264.09,703.88 264.93,703.11 265.77,702.35 266.59,701.6 267.41,700.85 268.23,700.11 269.04,699.38 269.84,698.65 270.64,697.92 271.43,697.2 272.22,696.48 273.01,695.76 273.8,695.05 274.58,694.34 275.36,693.63 276.14,692.92 276.92,692.21 277.7,691.5 278.48,690.79 279.26,690.08 280.04,689.37 280.82,688.66 281.6,687.95 282.39,687.24 283.18,686.52 283.97,685.8 284.76,685.08 285.56,684.35 286.36,683.62 287.17,682.89 287.99,682.15 288.81,681.4 289.63,680.65 290.47,679.89 291.31,679.12 292.16,678.35 293.02,677.57 293.89,676.78 294.77,675.97 295.67,675.16 296.57,674.34 297.49,673.5 298.43,672.65 299.38,671.79 300.34,670.91 301.33,670.02 302.33,669.1 303.36,668.17 304.41,667.21 305.48,666.24 306.58,665.24 307.71,664.21 308.87,663.15 310.07,662.07 311.3,660.94 312.58,659.78 313.9,658.58 315.27,657.34 316.7,656.04 318.18,654.69 319.74,653.27 321.38,651.78 323.1,650.22 324.93,648.56 326.87,646.79 328.94,644.91 331.17,642.87 333.59,640.67 336.24,638.26 339.18,635.6 342.47,632.61 346.22,629.19 350.61,625.2 355.91,620.38 362.64,614.26 371.92,605.82 387.17,591.95 441.82,542.26" fill="none" stroke="#9a1a22" stroke-width="1.1"/>
<polyline points="129.77,840.74 179.56,791.05 193.5,777.18 202.02,768.74 208.2,762.62 213.08,757.8 217.12,753.81 220.59,750.39 223.63,747.4 226.35,744.74 228.81,742.33 231.06,740.13 233.13,738.09 235.07,736.21 236.88,734.44 238.58,732.78 240.2,731.22 241.73,729.73 243.19,728.31 244.59,726.96 245.94,725.66 247.23,724.42 248.47,723.22 249.68,722.06 250.85,720.93 251.98,719.85 253.08,718.79 254.16,717.76 255.21,716.76 256.23,715.79 257.23,714.83 258.21,713.9 259.18,712.98 260.12,712.09 261.05,711.21 261.96,710.35 262.86,709.5 263.75,708.66 264.63,707.84 265.49,707.03 266.34,706.22 267.19,705.43 268.03,704.65 268.85,703.88 269.68,703.11 270.49,702.35 271.3,701.6 272.1,700.85 272.9,700.11 273.7,699.38 274.49,698.65 275.27,697.92 276.06,697.2 276.84,696.48 277.62,695.76 278.4,695.05 279.18,694.34 279.95,693.63 280.73,692.92 281.51,692.21 282.29,691.5 283.07,690.79 283.85,690.08 284.63,689.37 285.42,688.66 286.21,687.95 287,687.24 287.79,686.52 288.59,685.8 289.4,685.08 290.21,684.35 291.02,683.62 291.85,682.89 292.68,682.15 293.51,681.4 294.36,680.65 295.21,679.89 296.08,679.12 296.95,678.35 297.83,677.57 298.73,676.78 299.64,675.97 300.56,675.16 301.49,674.34 302.45,673.5 303.41,672.65 304.4,671.79 305.4,670.91 306.43,670.02 307.48,669.1 308.55,668.17 309.64,667.21 310.77,666.24 311.92,665.24 313.11,664.21 314.33,663.15 315.58,662.07 316.88,660.94 318.23,659.78 319.62,658.58 321.07,657.34 322.58,656.04 324.16,654.69 325.81,653.27 327.55,651.78 329.39,650.22 331.33,648.56 333.4,646.79 335.62,644.91 338,642.87 340.6,640.67 343.44,638.26 346.59,635.6 350.12,632.61 354.16,629.19 358.89,625.2 364.62,620.38 371.89,614.26 381.95,605.82 398.5,591.95 458.02,542.26" fill="none" stroke="#9a1a22" stroke-width="1.1"/>
</g>
<circle cx="149.9" cy="820.47" r="3.4" fill="url(#dg)"/>
<circle cx="175.5" cy="801.51" r="3.4" fill="url(#dg)"/>
<circle cx="183.4" cy="791.59" r="3.4" fill="url(#dg)"/>
<circle cx="191" cy="784.82" r="3.4" fill="url(#dg)"/>
<circle cx="192.4" cy="779.65" r="3.4" fill="url(#dg)"/>
<circle cx="193.5" cy="775.47" r="3.4" fill="url(#dg)"/>
<circle cx="199" cy="771.96" r="3.4" fill="url(#dg)"/>
<circle cx="205.5" cy="768.93" r="3.4" fill="url(#dg)"/>
<circle cx="205.3" cy="766.26" r="3.4" fill="url(#dg)"/>
<circle cx="207" cy="763.87" r="3.4" fill="url(#dg)"/>
<circle cx="207.65" cy="761.71" r="3.4" fill="url(#dg)"/>
<circle cx="210.37" cy="759.73" r="3.4" fill="url(#dg)"/>
<circle cx="211.14" cy="757.91" r="3.4" fill="url(#dg)"/>
<circle cx="212.41" cy="756.22" r="3.4" fill="url(#dg)"/>
<circle cx="213.57" cy="754.65" r="3.4" fill="url(#dg)"/>
<circle cx="213.55" cy="753.17" r="3.4" fill="url(#dg)"/>
<circle cx="214.18" cy="751.79" r="3.4" fill="url(#dg)"/>
<circle cx="214.22" cy="750.47" r="3.4" fill="url(#dg)"/>
<circle cx="215.21" cy="749.23" r="3.4" fill="url(#dg)"/>
<circle cx="216.54" cy="748.04" r="3.4" fill="url(#dg)"/>
<circle cx="217.74" cy="746.91" r="3.4" fill="url(#dg)"/>
<circle cx="218.81" cy="745.83" r="3.4" fill="url(#dg)"/>
<circle cx="218.71" cy="744.8" r="3.4" fill="url(#dg)"/>
<circle cx="218.43" cy="743.8" r="3.4" fill="url(#dg)"/>
<circle cx="219.85" cy="742.85" r="3.4" fill="url(#dg)"/>
<circle cx="222.52" cy="741.92" r="3.4" fill="url(#dg)"/>
<circle cx="221.23" cy="741.03" r="3.4" fill="url(#dg)"/>
<circle cx="223.29" cy="740.17" r="3.4" fill="url(#dg)"/>
<circle cx="226.07" cy="739.34" r="3.4" fill="url(#dg)"/>
<circle cx="224.38" cy="738.53" r="3.4" fill="url(#dg)"/>
<circle cx="227.4" cy="737.75" r="3.4" fill="url(#dg)"/>
<circle cx="229.66" cy="736.99" r="3.4" fill="url(#dg)"/>
<circle cx="228.14" cy="736.25" r="3.4" fill="url(#dg)"/>
<circle cx="229.82" cy="735.53" r="3.4" fill="url(#dg)"/>
<circle cx="231.61" cy="734.83" r="3.4" fill="url(#dg)"/>
<circle cx="229.75" cy="734.14" r="3.4" fill="url(#dg)"/>
<circle cx="231.61" cy="733.47" r="3.4" fill="url(#dg)"/>
<circle cx="232.94" cy="732.82" r="3.4" fill="url(#dg)"/>
<circle cx="233.25" cy="732.18" r="3.4" fill="url(#dg)"/>
<circle cx="233.02" cy="731.56" r="3.4" fill="url(#dg)"/>
<circle cx="232.57" cy="730.94" r="3.4" fill="url(#dg)"/>
<circle cx="233.88" cy="730.35" r="3.4" fill="url(#dg)"/>
<circle cx="233.88" cy="729.76" r="3.4" fill="url(#dg)"/>
<circle cx="234.59" cy="729.18" r="3.4" fill="url(#dg)"/>
<circle cx="234.61" cy="728.62" r="3.4" fill="url(#dg)"/>
<circle cx="236.48" cy="728.06" r="3.4" fill="url(#dg)"/>
<circle cx="236.62" cy="727.52" r="3.4" fill="url(#dg)"/>
<circle cx="235.53" cy="726.99" r="3.4" fill="url(#dg)"/>
<circle cx="236.73" cy="726.46" r="3.4" fill="url(#dg)"/>
<circle cx="236.14" cy="725.94" r="3.4" fill="url(#dg)"/>
<circle cx="237.06" cy="725.43" r="3.4" fill="url(#dg)"/>
<circle cx="237.09" cy="724.93" r="3.4" fill="url(#dg)"/>
<circle cx="238.4" cy="724.44" r="3.4" fill="url(#dg)"/>
<circle cx="237.82" cy="723.95" r="3.4" fill="url(#dg)"/>
<circle cx="238.44" cy="723.47" r="3.4" fill="url(#dg)"/>
<circle cx="239.6" cy="723" r="3.4" fill="url(#dg)"/>
<circle cx="239.02" cy="722.53" r="3.4" fill="url(#dg)"/>
<circle cx="240.98" cy="722.08" r="3.4" fill="url(#dg)"/>
<circle cx="239.05" cy="721.62" r="3.4" fill="url(#dg)"/>
<circle cx="241.22" cy="721.17" r="3.4" fill="url(#dg)"/>
<circle cx="240.57" cy="720.73" r="3.4" fill="url(#dg)"/>
<circle cx="240.96" cy="720.29" r="3.4" fill="url(#dg)"/>
<circle cx="241.99" cy="719.86" r="3.4" fill="url(#dg)"/>
<circle cx="241.99" cy="719.44" r="3.4" fill="url(#dg)"/>
<circle cx="242.01" cy="719.02" r="3.4" fill="url(#dg)"/>
<circle cx="241.04" cy="718.6" r="3.4" fill="url(#dg)"/>
<circle cx="241.88" cy="718.19" r="3.4" fill="url(#dg)"/>
<circle cx="244.58" cy="717.78" r="3.4" fill="url(#dg)"/>
<circle cx="244.71" cy="717.37" r="3.4" fill="url(#dg)"/>
<circle cx="245.97" cy="716.97" r="3.4" fill="url(#dg)"/>
<circle cx="247.5" cy="716.58" r="3.4" fill="url(#dg)"/>
<circle cx="247.33" cy="716.19" r="3.4" fill="url(#dg)"/>
<circle cx="246" cy="715.8" r="3.4" fill="url(#dg)"/>
<circle cx="247.51" cy="715.41" r="3.4" fill="url(#dg)"/>
<circle cx="248.97" cy="715.03" r="3.4" fill="url(#dg)"/>
<circle cx="248.24" cy="714.66" r="3.4" fill="url(#dg)"/>
<circle cx="250.97" cy="714.28" r="3.4" fill="url(#dg)"/>
<circle cx="251.31" cy="713.91" r="3.4" fill="url(#dg)"/>
<circle cx="251.39" cy="713.54" r="3.4" fill="url(#dg)"/>
<circle cx="250.58" cy="713.18" r="3.4" fill="url(#dg)"/>
<circle cx="252.15" cy="712.82" r="3.4" fill="url(#dg)"/>
<circle cx="250.26" cy="712.46" r="3.4" fill="url(#dg)"/>
<circle cx="251.21" cy="712.1" r="3.4" fill="url(#dg)"/>
<circle cx="252.08" cy="711.75" r="3.4" fill="url(#dg)"/>
<circle cx="253.35" cy="711.4" r="3.4" fill="url(#dg)"/>
<circle cx="252.9" cy="711.05" r="3.4" fill="url(#dg)"/>
<circle cx="252.17" cy="710.7" r="3.4" fill="url(#dg)"/>
<circle cx="253.2" cy="710.36" r="3.4" fill="url(#dg)"/>
<circle cx="253.52" cy="710.01" r="3.4" fill="url(#dg)"/>
<circle cx="253.81" cy="709.68" r="3.4" fill="url(#dg)"/>
<circle cx="253.75" cy="709.34" r="3.4" fill="url(#dg)"/>
<circle cx="254.91" cy="709" r="3.4" fill="url(#dg)"/>
<circle cx="255.38" cy="708.67" r="3.4" fill="url(#dg)"/>
<circle cx="256.79" cy="708.34" r="3.4" fill="url(#dg)"/>
<circle cx="257.22" cy="708.01" r="3.4" fill="url(#dg)"/>
<circle cx="256.73" cy="707.68" r="3.4" fill="url(#dg)"/>
<circle cx="256.98" cy="707.36" r="3.4" fill="url(#dg)"/>
<circle cx="258.44" cy="707.03" r="3.4" fill="url(#dg)"/>
<circle cx="259.23" cy="706.71" r="3.4" fill="url(#dg)"/>
<circle cx="258.99" cy="706.39" r="3.4" fill="url(#dg)"/>
<circle cx="259.83" cy="706.07" r="3.4" fill="url(#dg)"/>
<circle cx="260.71" cy="705.76" r="3.4" fill="url(#dg)"/>
<circle cx="258.26" cy="705.44" r="3.4" fill="url(#dg)"/>
<circle cx="261.37" cy="705.13" r="3.4" fill="url(#dg)"/>
<circle cx="259.88" cy="704.81" r="3.4" fill="url(#dg)"/>
<circle cx="260.94" cy="704.5" r="3.4" fill="url(#dg)"/>
<circle cx="262.39" cy="704.19" r="3.4" fill="url(#dg)"/>
<circle cx="262.56" cy="703.88" r="3.4" fill="url(#dg)"/>
<circle cx="261.16" cy="703.57" r="3.4" fill="url(#dg)"/>
<circle cx="263.22" cy="703.27" r="3.4" fill="url(#dg)"/>
<circle cx="261.75" cy="702.96" r="3.4" fill="url(#dg)"/>
<circle cx="263.08" cy="702.66" r="3.4" fill="url(#dg)"/>
<circle cx="264.96" cy="702.36" r="3.4" fill="url(#dg)"/>
<circle cx="264.14" cy="702.06" r="3.4" fill="url(#dg)"/>
<circle cx="265.1" cy="701.75" r="3.4" fill="url(#dg)"/>
<circle cx="265.92" cy="701.45" r="3.4" fill="url(#dg)"/>
<circle cx="266.63" cy="701.16" r="3.4" fill="url(#dg)"/>
<circle cx="266.84" cy="700.86" r="3.4" fill="url(#dg)"/>
<circle cx="264.84" cy="700.56" r="3.4" fill="url(#dg)"/>
<circle cx="266.47" cy="700.27" r="3.4" fill="url(#dg)"/>
<circle cx="266.85" cy="699.97" r="3.4" fill="url(#dg)"/>
<circle cx="265.26" cy="699.68" r="3.4" fill="url(#dg)"/>
<circle cx="267.78" cy="699.38" r="3.4" fill="url(#dg)"/>
<circle cx="268.38" cy="699.09" r="3.4" fill="url(#dg)"/>
<circle cx="269.68" cy="698.8" r="3.4" fill="url(#dg)"/>
<circle cx="270.48" cy="698.51" r="3.4" fill="url(#dg)"/>
<circle cx="267.02" cy="698.22" r="3.4" fill="url(#dg)"/>
<circle cx="267.78" cy="697.92" r="3.4" fill="url(#dg)"/>
<circle cx="270.03" cy="697.64" r="3.4" fill="url(#dg)"/>
<circle cx="267.89" cy="697.35" r="3.4" fill="url(#dg)"/>
<circle cx="268.6" cy="697.06" r="3.4" fill="url(#dg)"/>
<circle cx="270.49" cy="696.77" r="3.4" fill="url(#dg)"/>
<circle cx="268.91" cy="696.48" r="3.4" fill="url(#dg)"/>
<circle cx="272.01" cy="696.2" r="3.4" fill="url(#dg)"/>
<circle cx="272.63" cy="695.91" r="3.4" fill="url(#dg)"/>
<circle cx="269.16" cy="695.62" r="3.4" fill="url(#dg)"/>
<circle cx="271.76" cy="695.34" r="3.4" fill="url(#dg)"/>
<circle cx="273.29" cy="695.05" r="3.4" fill="url(#dg)"/>
<circle cx="274.42" cy="694.77" r="3.4" fill="url(#dg)"/>
<circle cx="271.5" cy="694.48" r="3.4" fill="url(#dg)"/>
<circle cx="271.33" cy="694.2" r="3.4" fill="url(#dg)"/>
<circle cx="274.89" cy="693.91" r="3.4" fill="url(#dg)"/>
<circle cx="275.35" cy="693.63" r="3.4" fill="url(#dg)"/>
<circle cx="272.39" cy="693.34" r="3.4" fill="url(#dg)"/>
<circle cx="273.82" cy="693.06" r="3.4" fill="url(#dg)"/>
<circle cx="275.4" cy="692.78" r="3.4" fill="url(#dg)"/>
<circle cx="276.29" cy="692.49" r="3.4" fill="url(#dg)"/>
<circle cx="273.49" cy="692.21" r="3.4" fill="url(#dg)"/>
<circle cx="276.08" cy="691.93" r="3.4" fill="url(#dg)"/>
<circle cx="277.04" cy="691.64" r="3.4" fill="url(#dg)"/>
<circle cx="276.17" cy="691.36" r="3.4" fill="url(#dg)"/>
<circle cx="274.68" cy="691.07" r="3.4" fill="url(#dg)"/>
<circle cx="274.36" cy="690.79" r="3.4" fill="url(#dg)"/>
<circle cx="275.77" cy="690.51" r="3.4" fill="url(#dg)"/>
<circle cx="278.47" cy="690.22" r="3.4" fill="url(#dg)"/>
<circle cx="275.24" cy="689.94" r="3.4" fill="url(#dg)"/>
<circle cx="275.35" cy="689.66" r="3.4" fill="url(#dg)"/>
<circle cx="277.25" cy="689.37" r="3.4" fill="url(#dg)"/>
<circle cx="276.16" cy="689.09" r="3.4" fill="url(#dg)"/>
<circle cx="276.83" cy="688.8" r="3.4" fill="url(#dg)"/>
<circle cx="276.53" cy="688.52" r="3.4" fill="url(#dg)"/>
<circle cx="279.11" cy="688.23" r="3.4" fill="url(#dg)"/>
<circle cx="280.18" cy="687.95" r="3.4" fill="url(#dg)"/>
<circle cx="279.22" cy="687.66" r="3.4" fill="url(#dg)"/>
<circle cx="278.16" cy="687.38" r="3.4" fill="url(#dg)"/>
<circle cx="279.34" cy="687.09" r="3.4" fill="url(#dg)"/>
<circle cx="280.81" cy="686.8" r="3.4" fill="url(#dg)"/>
<circle cx="282.7" cy="686.52" r="3.4" fill="url(#dg)"/>
<circle cx="283.21" cy="686.23" r="3.4" fill="url(#dg)"/>
<circle cx="280.03" cy="685.94" r="3.4" fill="url(#dg)"/>
<circle cx="279.24" cy="685.65" r="3.4" fill="url(#dg)"/>
<circle cx="283.28" cy="685.36" r="3.4" fill="url(#dg)"/>
<circle cx="284" cy="685.08" r="3.4" fill="url(#dg)"/>
<circle cx="282.12" cy="684.78" r="3.4" fill="url(#dg)"/>
<circle cx="283.84" cy="684.49" r="3.4" fill="url(#dg)"/>
<circle cx="284.55" cy="684.2" r="3.4" fill="url(#dg)"/>
<circle cx="283.64" cy="683.91" r="3.4" fill="url(#dg)"/>
<circle cx="285.13" cy="683.62" r="3.4" fill="url(#dg)"/>
<circle cx="281.5" cy="683.32" r="3.4" fill="url(#dg)"/>
<circle cx="282.92" cy="683.03" r="3.4" fill="url(#dg)"/>
<circle cx="283.33" cy="682.73" r="3.4" fill="url(#dg)"/>
<circle cx="283" cy="682.44" r="3.4" fill="url(#dg)"/>
<circle cx="287.02" cy="682.14" r="3.4" fill="url(#dg)"/>
<circle cx="283.37" cy="681.84" r="3.4" fill="url(#dg)"/>
<circle cx="286.72" cy="681.55" r="3.4" fill="url(#dg)"/>
<circle cx="284.35" cy="681.25" r="3.4" fill="url(#dg)"/>
<circle cx="286.08" cy="680.94" r="3.4" fill="url(#dg)"/>
<circle cx="286.74" cy="680.64" r="3.4" fill="url(#dg)"/>
<circle cx="286.05" cy="680.34" r="3.4" fill="url(#dg)"/>
<circle cx="287.98" cy="680.04" r="3.4" fill="url(#dg)"/>
<circle cx="288.38" cy="679.73" r="3.4" fill="url(#dg)"/>
<circle cx="287.72" cy="679.43" r="3.4" fill="url(#dg)"/>
<circle cx="289.99" cy="679.12" r="3.4" fill="url(#dg)"/>
<circle cx="287.68" cy="678.81" r="3.4" fill="url(#dg)"/>
<circle cx="288.17" cy="678.5" r="3.4" fill="url(#dg)"/>
<circle cx="289.26" cy="678.19" r="3.4" fill="url(#dg)"/>
<circle cx="289.72" cy="677.87" r="3.4" fill="url(#dg)"/>
<circle cx="289.28" cy="677.56" r="3.4" fill="url(#dg)"/>
<circle cx="292.91" cy="677.24" r="3.4" fill="url(#dg)"/>
<circle cx="292.84" cy="676.93" r="3.4" fill="url(#dg)"/>
<circle cx="289.88" cy="676.61" r="3.4" fill="url(#dg)"/>
<circle cx="291.44" cy="676.29" r="3.4" fill="url(#dg)"/>
<circle cx="291.17" cy="675.97" r="3.4" fill="url(#dg)"/>
<circle cx="292.53" cy="675.64" r="3.4" fill="url(#dg)"/>
<circle cx="292.09" cy="675.32" r="3.4" fill="url(#dg)"/>
<circle cx="293.49" cy="674.99" r="3.4" fill="url(#dg)"/>
<circle cx="295.79" cy="674.66" r="3.4" fill="url(#dg)"/>
<circle cx="293.67" cy="674.33" r="3.4" fill="url(#dg)"/>
<circle cx="295.27" cy="674" r="3.4" fill="url(#dg)"/>
<circle cx="295.4" cy="673.66" r="3.4" fill="url(#dg)"/>
<circle cx="296.49" cy="673.32" r="3.4" fill="url(#dg)"/>
<circle cx="293.69" cy="672.99" r="3.4" fill="url(#dg)"/>
<circle cx="297.21" cy="672.64" r="3.4" fill="url(#dg)"/>
<circle cx="298.52" cy="672.3" r="3.4" fill="url(#dg)"/>
<circle cx="297.32" cy="671.95" r="3.4" fill="url(#dg)"/>
<circle cx="296.21" cy="671.6" r="3.4" fill="url(#dg)"/>
<circle cx="298.32" cy="671.25" r="3.4" fill="url(#dg)"/>
<circle cx="298.84" cy="670.9" r="3.4" fill="url(#dg)"/>
<circle cx="298.93" cy="670.54" r="3.4" fill="url(#dg)"/>
<circle cx="296.94" cy="670.18" r="3.4" fill="url(#dg)"/>
<circle cx="301.09" cy="669.82" r="3.4" fill="url(#dg)"/>
<circle cx="301.36" cy="669.46" r="3.4" fill="url(#dg)"/>
<circle cx="299.28" cy="669.09" r="3.4" fill="url(#dg)"/>
<circle cx="300.41" cy="668.72" r="3.4" fill="url(#dg)"/>
<circle cx="298.33" cy="668.34" r="3.4" fill="url(#dg)"/>
<circle cx="303.16" cy="667.97" r="3.4" fill="url(#dg)"/>
<circle cx="302.86" cy="667.59" r="3.4" fill="url(#dg)"/>
<circle cx="302.5" cy="667.2" r="3.4" fill="url(#dg)"/>
<circle cx="303.56" cy="666.81" r="3.4" fill="url(#dg)"/>
<circle cx="301.41" cy="666.42" r="3.4" fill="url(#dg)"/>
<circle cx="302.46" cy="666.03" r="3.4" fill="url(#dg)"/>
<circle cx="302.68" cy="665.63" r="3.4" fill="url(#dg)"/>
<circle cx="304.82" cy="665.22" r="3.4" fill="url(#dg)"/>
<circle cx="303.07" cy="664.81" r="3.4" fill="url(#dg)"/>
<circle cx="307.33" cy="664.4" r="3.4" fill="url(#dg)"/>
<circle cx="305.91" cy="663.98" r="3.4" fill="url(#dg)"/>
<circle cx="306.41" cy="663.56" r="3.4" fill="url(#dg)"/>
<circle cx="305.43" cy="663.14" r="3.4" fill="url(#dg)"/>
<circle cx="308.69" cy="662.71" r="3.4" fill="url(#dg)"/>
<circle cx="309.9" cy="662.27" r="3.4" fill="url(#dg)"/>
<circle cx="309.65" cy="661.83" r="3.4" fill="url(#dg)"/>
<circle cx="308.48" cy="661.38" r="3.4" fill="url(#dg)"/>
<circle cx="311.6" cy="660.92" r="3.4" fill="url(#dg)"/>
<circle cx="309.29" cy="660.47" r="3.4" fill="url(#dg)"/>
<circle cx="313.07" cy="660" r="3.4" fill="url(#dg)"/>
<circle cx="312.58" cy="659.53" r="3.4" fill="url(#dg)"/>
<circle cx="311.9" cy="659.05" r="3.4" fill="url(#dg)"/>
<circle cx="313.6" cy="658.56" r="3.4" fill="url(#dg)"/>
<circle cx="314.76" cy="658.07" r="3.4" fill="url(#dg)"/>
<circle cx="313.62" cy="657.57" r="3.4" fill="url(#dg)"/>
<circle cx="316.91" cy="657.06" r="3.4" fill="url(#dg)"/>
<circle cx="315.54" cy="656.54" r="3.4" fill="url(#dg)"/>
<circle cx="318.3" cy="656.01" r="3.4" fill="url(#dg)"/>
<circle cx="318.65" cy="655.48" r="3.4" fill="url(#dg)"/>
<circle cx="315.88" cy="654.94" r="3.4" fill="url(#dg)"/>
<circle cx="319.03" cy="654.38" r="3.4" fill="url(#dg)"/>
<circle cx="318.13" cy="653.82" r="3.4" fill="url(#dg)"/>
<circle cx="320.82" cy="653.24" r="3.4" fill="url(#dg)"/>
<circle cx="320.52" cy="652.65" r="3.4" fill="url(#dg)"/>
<circle cx="320.81" cy="652.06" r="3.4" fill="url(#dg)"/>
<circle cx="323.51" cy="651.44" r="3.4" fill="url(#dg)"/>
<circle cx="320.53" cy="650.82" r="3.4" fill="url(#dg)"/>
<circle cx="324.13" cy="650.18" r="3.4" fill="url(#dg)"/>
<circle cx="324.4" cy="649.53" r="3.4" fill="url(#dg)"/>
<circle cx="324.41" cy="648.86" r="3.4" fill="url(#dg)"/>
<circle cx="329.11" cy="648.17" r="3.4" fill="url(#dg)"/>
<circle cx="329.31" cy="647.47" r="3.4" fill="url(#dg)"/>
<circle cx="331.56" cy="646.75" r="3.4" fill="url(#dg)"/>
<circle cx="330.94" cy="646.01" r="3.4" fill="url(#dg)"/>
<circle cx="330.5" cy="645.25" r="3.4" fill="url(#dg)"/>
<circle cx="334.27" cy="644.47" r="3.4" fill="url(#dg)"/>
<circle cx="331.07" cy="643.66" r="3.4" fill="url(#dg)"/>
<circle cx="331.62" cy="642.83" r="3.4" fill="url(#dg)"/>
<circle cx="335.6" cy="641.97" r="3.4" fill="url(#dg)"/>
<circle cx="334.83" cy="641.08" r="3.4" fill="url(#dg)"/>
<circle cx="335.71" cy="640.15" r="3.4" fill="url(#dg)"/>
<circle cx="339.04" cy="639.2" r="3.4" fill="url(#dg)"/>
<circle cx="337.5" cy="638.2" r="3.4" fill="url(#dg)"/>
<circle cx="341.12" cy="637.17" r="3.4" fill="url(#dg)"/>
<circle cx="341.08" cy="636.09" r="3.4" fill="url(#dg)"/>
<circle cx="340.76" cy="634.96" r="3.4" fill="url(#dg)"/>
<circle cx="340.75" cy="633.77" r="3.4" fill="url(#dg)"/>
<circle cx="343.12" cy="632.53" r="3.4" fill="url(#dg)"/>
<circle cx="348.05" cy="631.21" r="3.4" fill="url(#dg)"/>
<circle cx="347.16" cy="629.83" r="3.4" fill="url(#dg)"/>
<circle cx="347.83" cy="628.35" r="3.4" fill="url(#dg)"/>
<circle cx="350.38" cy="626.78" r="3.4" fill="url(#dg)"/>
<circle cx="355.01" cy="625.09" r="3.4" fill="url(#dg)"/>
<circle cx="353.36" cy="623.27" r="3.4" fill="url(#dg)"/>
<circle cx="358.05" cy="621.29" r="3.4" fill="url(#dg)"/>
<circle cx="356.86" cy="619.13" r="3.4" fill="url(#dg)"/>
<circle cx="362.16" cy="616.74" r="3.4" fill="url(#dg)"/>
<circle cx="361.84" cy="614.07" r="3.4" fill="url(#dg)"/>
<circle cx="366" cy="611.04" r="3.4" fill="url(#dg)"/>
<circle cx="372.9" cy="607.53" r="3.4" fill="url(#dg)"/>
<circle cx="384.3" cy="603.35" r="3.4" fill="url(#dg)"/>
<circle cx="389.7" cy="598.18" r="3.4" fill="url(#dg)"/>
<circle cx="392.3" cy="591.41" r="3.4" fill="url(#dg)"/>
<circle cx="404.5" cy="581.49" r="3.4" fill="url(#dg)"/>
<circle cx="446.3" cy="562.53" r="3.4" fill="url(#dg)"/>
<rect x="78.5" y="544.5" width="431.0" height="294.0" fill="none" stroke="#a3a3a3" stroke-width="1.2"/>
<line x1="74.5" y1="544.5" x2="78.5" y2="544.5" stroke="#8c8c8c" stroke-width="1"/>
<text x="72" y="548.8" font-size="12" font-weight="400" text-anchor="end" class="th" >99,9</text>
<line x1="74.5" y1="593.7" x2="78.5" y2="593.7" stroke="#8c8c8c" stroke-width="1"/>
<text x="72" y="598" font-size="12" font-weight="400" text-anchor="end" class="th" >99</text>
<line x1="74.5" y1="628.83" x2="78.5" y2="628.83" stroke="#8c8c8c" stroke-width="1"/>
<text x="72" y="633.13" font-size="12" font-weight="400" text-anchor="end" class="th" >95</text>
<line x1="74.5" y1="661.99" x2="78.5" y2="661.99" stroke="#8c8c8c" stroke-width="1"/>
<text x="72" y="666.29" font-size="12" font-weight="400" text-anchor="end" class="th" >80</text>
<line x1="74.5" y1="691.5" x2="78.5" y2="691.5" stroke="#8c8c8c" stroke-width="1"/>
<text x="72" y="695.8" font-size="12" font-weight="400" text-anchor="end" class="th" >50</text>
<line x1="74.5" y1="721.01" x2="78.5" y2="721.01" stroke="#8c8c8c" stroke-width="1"/>
<text x="72" y="725.31" font-size="12" font-weight="400" text-anchor="end" class="th" >20</text>
<line x1="74.5" y1="754.17" x2="78.5" y2="754.17" stroke="#8c8c8c" stroke-width="1"/>
<text x="72" y="758.47" font-size="12" font-weight="400" text-anchor="end" class="th" >5</text>
<line x1="74.5" y1="789.3" x2="78.5" y2="789.3" stroke="#8c8c8c" stroke-width="1"/>
<text x="72" y="793.6" font-size="12" font-weight="400" text-anchor="end" class="th" >1</text>
<line x1="74.5" y1="838.5" x2="78.5" y2="838.5" stroke="#8c8c8c" stroke-width="1"/>
<text x="72" y="842.8" font-size="12" font-weight="400" text-anchor="end" class="th" >0,1</text>
<line x1="98.4" y1="838.5" x2="98.4" y2="842.5" stroke="#8c8c8c" stroke-width="1"/>
<text x="98.4" y="854" font-size="11.6" font-weight="400" text-anchor="middle" class="th" >1,720</text>
<line x1="178.9" y1="838.5" x2="178.9" y2="842.5" stroke="#8c8c8c" stroke-width="1"/>
<text x="178.9" y="854" font-size="11.6" font-weight="400" text-anchor="middle" class="th" >1,725</text>
<line x1="259.5" y1="838.5" x2="259.5" y2="842.5" stroke="#8c8c8c" stroke-width="1"/>
<text x="259.5" y="854" font-size="11.6" font-weight="400" text-anchor="middle" class="th" >1,730</text>
<line x1="341" y1="838.5" x2="341" y2="842.5" stroke="#8c8c8c" stroke-width="1"/>
<text x="341" y="854" font-size="11.6" font-weight="400" text-anchor="middle" class="th" >1,735</text>
<line x1="421.4" y1="838.5" x2="421.4" y2="842.5" stroke="#8c8c8c" stroke-width="1"/>
<text x="421.4" y="854" font-size="11.6" font-weight="400" text-anchor="middle" class="th" >1,740</text>
<line x1="503.15" y1="838.5" x2="503.15" y2="842.5" stroke="#8c8c8c" stroke-width="1"/>
<text x="503.15" y="854" font-size="11.6" font-weight="400" text-anchor="middle" class="th" >1,745</text>
<text x="325.5" y="504.5" font-size="16" font-weight="400" text-anchor="middle" class="th" letter-spacing="0.6" style="stroke-width:0.55px">Probability Plot of y</text>
<text x="325.5" y="522.5" font-size="14" font-weight="400" text-anchor="middle" class="th" letter-spacing="0.33" style="stroke-width:0.45px">Logistic - 95% CI</text>
<text x="294.7" y="873" font-size="15" font-weight="700" text-anchor="middle" >y</text>
<text transform="translate(38.3,691) rotate(-90)" font-size="14" font-weight="700" text-anchor="middle">Percent</text>
<rect x="524.5" y="544.5" width="104" height="75" fill="#fff" stroke="#a3a3a3" stroke-width="1"/>
<text x="531.5" y="557.5" font-size="10.5" font-weight="400" text-anchor="start" class="th" >Loc</text>
<text x="622" y="557.5" font-size="10.5" font-weight="400" text-anchor="end" class="th" >1,731</text>
<text x="531.5" y="571.5" font-size="10.5" font-weight="400" text-anchor="start" class="th" >Scale</text>
<text x="622" y="571.5" font-size="10.5" font-weight="400" text-anchor="end" class="th" >0,001443</text>
<text x="531.5" y="585.5" font-size="10.5" font-weight="400" text-anchor="start" class="th" >N</text>
<text x="622" y="585.5" font-size="10.5" font-weight="400" text-anchor="end" class="th" >300</text>
<text x="531.5" y="599.5" font-size="10.5" font-weight="400" text-anchor="start" class="th" >AD</text>
<text x="622" y="599.5" font-size="10.5" font-weight="400" text-anchor="end" class="th" >0,448</text>
<text x="531.5" y="613.5" font-size="10.5" font-weight="400" text-anchor="start" class="th" letter-spacing="0.45">P-Value</text>
<text x="622" y="613.5" font-size="10.5" font-weight="400" text-anchor="end" class="th" >0,225</text>
</svg>
</body></html>
